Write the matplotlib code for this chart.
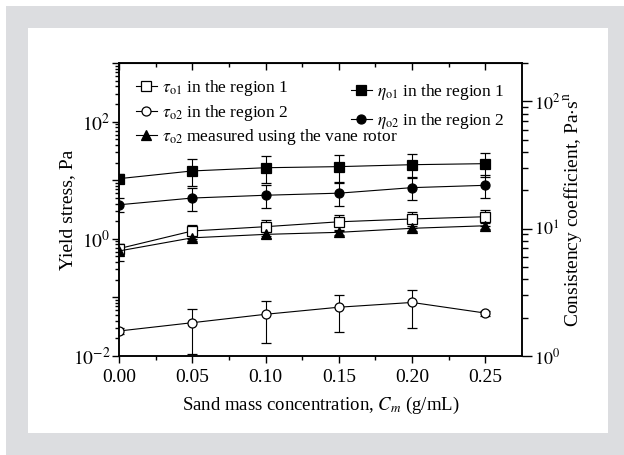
import numpy as np
import matplotlib
matplotlib.use("Agg")
import matplotlib.pyplot as plt
from matplotlib.patches import Rectangle
from matplotlib.lines import Line2D
from matplotlib.ticker import LogLocator, NullFormatter, FixedLocator

plt.rcParams['font.family'] = ['Liberation Serif', 'DejaVu Serif']
plt.rcParams['mathtext.fontset'] = 'stix'

# sand mass concentration, g/mL
conc = [0.00, 0.05, 0.10, 0.15, 0.20, 0.25]

# yield stresses, Pa (left axis)
tau_o1 = [0.68, 1.36, 1.61, 1.95, 2.18, 2.38]
tau_o1_err = [0.15, 0.35, 0.50, 0.58, 0.65, 0.70]
tau_o2 = [0.0267, 0.037, 0.0515, 0.068, 0.082, 0.054]
tau_o2_err = [0.003, 0.026, 0.035, 0.042, 0.052, 0.005]
tau_vane = [0.62, 1.04, 1.19, 1.29, 1.51, 1.67]
tau_vane_err = [0.20, 0.13, 0.14, 0.15, 0.17, 0.18]

# consistency coefficients, Pa.s^n (right axis)
eta_o1 = [24.7, 28.4, 30.1, 30.7, 31.8, 32.4]
eta_o1_err = [2.0, 6.7, 7.2, 7.5, 7.0, 7.0]
eta_o2 = [15.4, 17.4, 18.3, 19.0, 21.0, 21.9]
eta_o2_err = [2.0, 3.6, 3.8, 3.8, 4.3, 4.4]

x_ticks = [0.00, 0.05, 0.10, 0.15, 0.20, 0.25]
x_ticklabels = ['0.00', '0.05', '0.10', '0.15', '0.20', '0.25']
left_ticks = [1e-2, 1e-1, 1e0, 1e1, 1e2, 1e3]
left_ticklabels = [r'$10^{-2}$', '', r'$10^{0}$', '', r'$10^{2}$', '']
right_ticks = [1e0, 1e1, 1e2]
right_ticklabels = [r'$10^{0}$', r'$10^{1}$', r'$10^{2}$']

fig = plt.figure(figsize=(6.24, 4.55), dpi=100)
fig.patch.set_facecolor('white')
# grey mat with a white card on it
fig.patches.append(Rectangle((6 / 624, 0), 1, 449 / 455, transform=fig.transFigure,
                             facecolor='#dcdde0', edgecolor='none', zorder=-10))
fig.patches.append(Rectangle((28 / 624, 22 / 455), 580 / 624, 405 / 455,
                             transform=fig.transFigure,
                             facecolor='white', edgecolor='none', zorder=-9))

ax = fig.add_axes([119 / 624, 99 / 455, 403 / 624, 293 / 455])
ax.set_facecolor('none')
ax2 = ax.twinx()

ms = 6.5
lw = 0.8
eb = dict(color='black', lw=lw, elinewidth=lw, capsize=3.8, capthick=lw, markersize=ms,
          markeredgecolor='black', markeredgewidth=0.9)

ax.errorbar(conc, tau_o1, yerr=tau_o1_err, marker='s', markerfacecolor='white', **eb)
ax.errorbar(conc, tau_o2, yerr=tau_o2_err, marker='o', markerfacecolor='white', **eb)
ax.errorbar(conc, tau_vane, yerr=tau_vane_err, marker='^', markerfacecolor='black', **eb)
ax2.errorbar(conc, eta_o1, yerr=eta_o1_err, marker='s', markerfacecolor='black', **eb)
ax2.errorbar(conc, eta_o2, yerr=eta_o2_err, marker='o', markerfacecolor='black', **eb)

ax.set_xlim(0, 0.275)
ax.set_yscale('log')
ax.set_ylim(1e-2, 1e3)
ax2.set_yscale('log')
ax2.set_ylim(1, 200)

ax.set_xticks(x_ticks)
ax.set_xticklabels(x_ticklabels)
ax.set_xticks(np.arange(0.025, 0.275, 0.05), minor=True)
ax.yaxis.set_major_locator(FixedLocator(left_ticks))
ax.set_yticklabels(left_ticklabels)
ax.yaxis.set_minor_locator(LogLocator(base=10, subs=np.arange(2, 10), numticks=20))
ax.yaxis.set_minor_formatter(NullFormatter())
ax2.yaxis.set_major_locator(FixedLocator(right_ticks))
ax2.set_yticklabels(right_ticklabels)
ax2.yaxis.set_minor_locator(LogLocator(base=10, subs=np.arange(2, 10), numticks=20))
ax2.yaxis.set_minor_formatter(NullFormatter())

# top axis: same ticks, pointing inward, no labels
top = ax.secondary_xaxis('top')
top.set_xticks(x_ticks)
top.set_xticks(np.arange(0.025, 0.275, 0.05), minor=True)
top.tick_params(which='both', direction='in', labeltop=False, width=1)
top.tick_params(which='major', length=5)
top.tick_params(which='minor', length=3)

ax.tick_params(axis='x', which='both', direction='out', labelsize=14, pad=4)
ax.tick_params(axis='x', which='major', length=5, width=1)
ax.tick_params(axis='x', which='minor', length=3, width=1)
ax.tick_params(axis='y', which='major', direction='out', length=5, width=1, labelsize=14, pad=1)
ax.tick_params(axis='y', which='minor', direction='out', length=3, width=1)
ax2.tick_params(axis='y', which='major', direction='out', length=7, width=1, labelsize=13, pad=2)
ax2.tick_params(axis='y', which='minor', direction='out', length=4, width=1)
for a in (ax, ax2):
    for s in a.spines.values():
        s.set_linewidth(1.1)

ax.set_xlabel(r'Sand mass concentration, $C_m$ (g/mL)', fontsize=13.5, labelpad=7)
ax.set_ylabel('Yield stress, Pa', fontsize=14, labelpad=-2)
ax2.set_ylabel(r'Consistency coefficient, Pa$\cdot$s$^{\rm n}$', fontsize=14, labelpad=1)


def handle(marker, face):
    return Line2D([], [], color='black', lw=lw, marker=marker, markersize=ms,
                  markerfacecolor=face, markeredgecolor='black', markeredgewidth=0.9)


leg_kw = dict(frameon=False, fontsize=12.5, handlelength=1.2, handletextpad=0.3,
              borderaxespad=0, loc='upper left')
ax.legend([handle('s', 'white'), handle('o', 'white'), handle('^', 'black')],
          [r'$\tau_{\rm o1}$ in the region 1',
           r'$\tau_{\rm o2}$ in the region 2',
           r'$\tau_{\rm o2}$ measured using the vane rotor'],
          bbox_to_anchor=(10 / 403, 1 - 8 / 293), labelspacing=0.27, **leg_kw)
ax2.legend([handle('s', 'black'), handle('o', 'black')],
           [r'$\eta_{\rm o1}$ in the region 1',
            r'$\eta_{\rm o2}$ in the region 2'],
           bbox_to_anchor=(225 / 403, 1 - 12 / 293), labelspacing=0.55, **leg_kw)

fig.savefig('out.png', dpi=100)
